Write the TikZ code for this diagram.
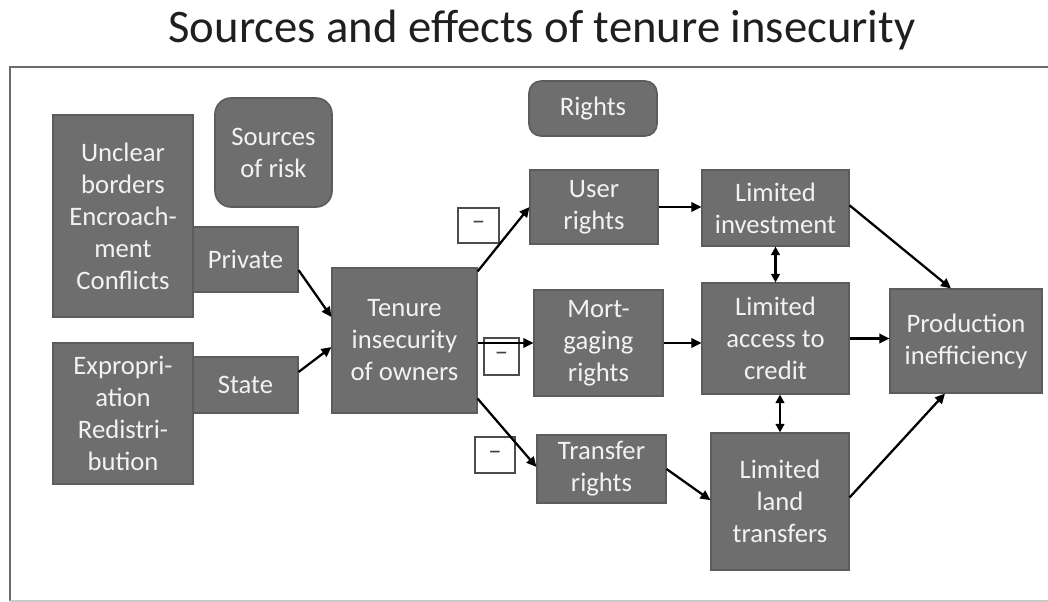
\documentclass[tikz,border=0pt]{standalone}
\usepackage{fontspec}
\setmainfont{Carlito}
\usetikzlibrary{arrows.meta,calc}
\definecolor{boxgray}{HTML}{6E6E6E}
\definecolor{boxedge}{HTML}{5C5C5C}
\definecolor{boxtext}{HTML}{F2F2F2}
\definecolor{framegray}{HTML}{6A6A6A}
\definecolor{framelight}{HTML}{C8C8C8}
\begin{document}
\begin{tikzpicture}[x=0.75pt,y=-0.75pt,
  sz/.style 2 args={minimum width=#1*0.75pt, minimum height=#2*0.75pt},
  gbox/.style={draw=boxedge, line width=0.8pt, fill=boxgray, text=boxtext, align=center,
     inner sep=0pt, font=\fontsize{20}{24}\selectfont},
  rbox/.style={gbox, rounded corners=9pt, line width=1.2pt},
  minusbox/.style={draw=black!70, line width=1.1pt, fill=white, inner sep=0pt,
     font=\fontsize{20}{22}\selectfont, text=black!75},
  arr/.style={line width=1.7pt, -{Triangle[length=7.5pt,width=7pt]}},
  darr/.style={line width=1.7pt, {Triangle[length=6.5pt,width=6.5pt]}-{Triangle[length=6.5pt,width=6.5pt]}}
]
\useasboundingbox (0,0) rectangle (1048,602);
% title
\node[font=\fontsize{35}{40}\selectfont, text=black!88] (title) at (542,30) {Sources and effects of tenure insecurity};
% frame
\draw[framegray, line width=1.8pt] (1050,67) -- (10,67) -- (10,601);
\draw[framelight, line width=1.2pt] (10,601) -- (1050,601);

% left column
\node[gbox, sz={140}{202}] (unclear) at (123,216) {Unclear\\borders\\Encroach-\\ment\\Conflicts};
\node[rbox, sz={117}{109}, rounded corners=12pt] (sources) at (273.5,152.5) {Sources\\of risk};
\node[gbox, sz={105}{65}] (private) at (245.5,259.5) {Private};
\node[gbox, sz={140}{141}] (exprop) at (123,413.5) {Expropri-\\ation\\Redistri-\\bution};
\node[gbox, sz={105}{56}] (state) at (245.5,385) {State};
\node[gbox, sz={145}{145}] (tenure) at (404.5,340.5) {Tenure\\insecurity\\of owners};

% rights column
\node[rbox, sz={128}{55}] (rights) at (593,108.5) {Rights};
\node[gbox, sz={128}{74}] (user) at (594,207) {User\\rights};
\node[gbox, sz={129}{106}] (mort) at (598.5,343) {Mort-\\gaging\\rights};
\node[gbox, sz={129}{68}] (trans) at (601.5,469) {Transfer\\rights};

% effects column
\node[gbox, sz={147}{76}] (linv) at (775.5,208) {Limited\\investment};
\node[gbox, sz={147}{111}] (lacc) at (775.5,338.5) {Limited\\access to\\credit};
\node[gbox, sz={138}{137}] (lland) at (780,501.5) {Limited\\land\\transfers};
\node[gbox, sz={152}{104}] (prod) at (966,341) {Production\\inefficiency};

% minus boxes
\node[minusbox, sz={41}{35}] (m1) at (478.5,225.5) {--};
\node[minusbox, sz={35}{37}] (m2) at (501.5,356.5) {--};
\node[minusbox, sz={40}{36}] (m3) at (495,455) {--};

% connectors
\draw[arr] ([yshift=-7.9pt]private.east) -- ([yshift=17.6pt]tenure.west);
\draw[arr] ([yshift=9.75pt]state.east) -- ([yshift=-4.9pt]tenure.west);
\draw[arr] ([yshift=-3pt]tenure.north east) -- (user.west);
\draw[arr] (tenure.east |- mort.west) -- (mort.west);
\draw[arr] ([yshift=11.25pt]tenure.south east) -- ([yshift=1.5pt]trans.west);
\draw[arr] (user.east) -- (user.east -| linv.west);
\draw[darr] (linv.south) -- (lacc.north);
\draw[arr] (mort.east) -- (mort.east -| lacc.west);
\draw[darr] (lland.north |- lacc.south) -- (lland.north);
\draw[arr] (trans.east) -- ([yshift=1pt]lland.west);
\draw[arr] ([yshift=2pt]linv.east) -- ([xshift=-11.25pt]prod.north);
\draw[arr] (lacc.east) -- (lacc.east -| prod.west);
\draw[arr] ([yshift=3pt]lland.east) -- ([xshift=-15.75pt]prod.south);
\end{tikzpicture}
\end{document}
